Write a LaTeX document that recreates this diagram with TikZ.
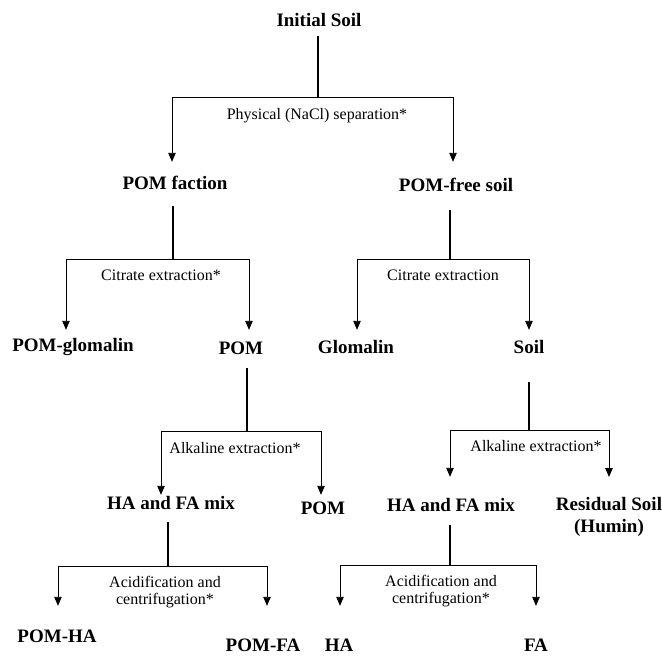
\documentclass[tikz,border=0pt]{standalone}
\usepackage{fontspec}
\setmainfont{Liberation Serif}
\usetikzlibrary{arrows.meta}
\begin{document}
\begin{tikzpicture}[x=1pt,y=-1pt,
  lab/.style={font=\fontsize{19}{22}\selectfont\bfseries, inner sep=0pt, text height=13pt, text depth=4pt, anchor=base},
  labml/.style={font=\fontsize{19}{22}\selectfont\bfseries, inner sep=0pt, align=center, anchor=north},
  proc/.style={font=\fontsize{16}{17.5}\selectfont, inner sep=0pt, align=center},
  stem/.style={line width=1.8pt},
  branch/.style={line width=0.9pt},
  arr/.style={line width=0.9pt, -{Triangle[length=9pt,width=7.5pt]}}
]
\useasboundingbox (0,0) rectangle (662,656);

% ---- nodes ----
\node[lab] (init) at (319,26) {Initial Soil};
\node[proc] (phys) at (317,116) {Physical (NaCl) separation*};
\node[lab] (pomf) at (175,189) {POM faction};
\node[lab] (pomfree) at (456,191) {POM-free soil};
\node[proc] (cit1) at (161,275) {Citrate extraction*};
\node[proc] (cit2) at (443,275) {Citrate extraction};
\node[lab] (pomglom) at (73,351) {POM-glomalin};
\node[lab] (pom1) at (241,354) {POM};
\node[lab] (glom) at (356,353) {Glomalin};
\node[lab] (soil) at (529,353) {Soil};
\node[proc] (alk1) at (235,448) {Alkaline extraction*};
\node[proc] (alk2) at (536,446) {Alkaline extraction*};
\node[lab] (hafa1) at (171,509) {HA and FA mix};
\node[lab] (pom2) at (323,514) {POM};
\node[lab] (hafa2) at (451,511) {HA and FA mix};
\node[labml] (resid) at (609,497) {Residual Soil\\(Humin)};
\node[proc] (acid1) at (165,592) {Acidification and\\centrifugation*};
\node[proc] (acid2) at (441,591) {Acidification and\\centrifugation*};
\node[lab] (pomha) at (57,642) {POM-HA};
\node[lab] (pomfa) at (263,651) {POM-FA};
\node[lab] (ha) at (339,651) {HA};
\node[lab] (fa) at (536,651) {FA};

% ---- junctions ----
\coordinate (j0) at (318,97);  \coordinate (j0L) at (172,97);  \coordinate (j0R) at (453,97);
\coordinate (j1) at (173,259); \coordinate (j1L) at (66,259);  \coordinate (j1R) at (249,259);
\coordinate (j2) at (450,259); \coordinate (j2L) at (357,259); \coordinate (j2R) at (529,259);
\coordinate (j3) at (247,431); \coordinate (j3L) at (161,431); \coordinate (j3R) at (321,431);
\coordinate (j4) at (529,430); \coordinate (j4L) at (450,430); \coordinate (j4R) at (609,430);
\coordinate (j5) at (168,566); \coordinate (j5L) at (58,566);  \coordinate (j5R) at (267,566);
\coordinate (j6) at (450,565); \coordinate (j6L) at (340,565); \coordinate (j6R) at (536,565);

% ---- stage 0 ----
\draw[stem, shorten <=6pt] (j0 |- init.south) -- (j0);
\draw[branch] (j0L) -- (j0R);
\draw[arr, shorten >=14pt] (j0L) -- (j0L |- pomf.north);
\draw[arr, shorten >=16pt] (j0R) -- (j0R |- pomfree.north);

% ---- stage 1 left ----
\draw[stem, shorten <=13pt] (j1 |- pomf.south) -- (j1);
\draw[branch] (j1L) -- (j1R);
\draw[arr, shorten >=8pt] (j1L) -- (j1L |- pomglom.north);
\draw[arr, shorten >=11pt] (j1R) -- (j1R |- pom1.north);

% ---- stage 1 right ----
\draw[stem, shorten <=15pt] (j2 |- pomfree.south) -- (j2);
\draw[branch] (j2L) -- (j2R);
\draw[arr, shorten >=10pt] (j2L) -- (j2L |- glom.north);
\draw[arr, shorten >=10pt] (j2R) -- (j2R |- soil.north);

% ---- stage 2 left ----
\draw[stem, shorten <=10pt] (j3 |- pom1.south) -- (j3);
\draw[branch] (j3L) -- (j3R);
\draw[arr, shorten >=1pt] (j3L) -- (j3L |- hafa1.north);
\draw[arr, shorten >=6pt] (j3R) -- (j3R |- pom2.north);

% ---- stage 2 right ----
\draw[stem, shorten <=25pt] (j4 |- soil.south) -- (j4);
\draw[branch] (j4L) -- (j4R);
\draw[arr, shorten >=21pt] (j4L) -- (j4L |- hafa2.north);
\draw[arr, shorten >=20pt] (j4R) -- (j4R |- resid.north);

% ---- stage 3 left ----
\draw[stem, shorten <=9pt] (j5 |- hafa1.south) -- (j5);
\draw[branch] (j5L) -- (j5R);
\draw[arr, shorten >=23pt] (j5L) -- (j5L |- pomha.north);
\draw[arr, shorten >=32pt] (j5R) -- (j5R |- pomfa.north);

% ---- stage 3 right ----
\draw[stem, shorten <=10pt] (j6 |- hafa2.south) -- (j6);
\draw[branch] (j6L) -- (j6R);
\draw[arr, shorten >=32pt] (j6L) -- (j6L |- ha.north);
\draw[arr, shorten >=32pt] (j6R) -- (j6R |- fa.north);
\end{tikzpicture}
\end{document}
